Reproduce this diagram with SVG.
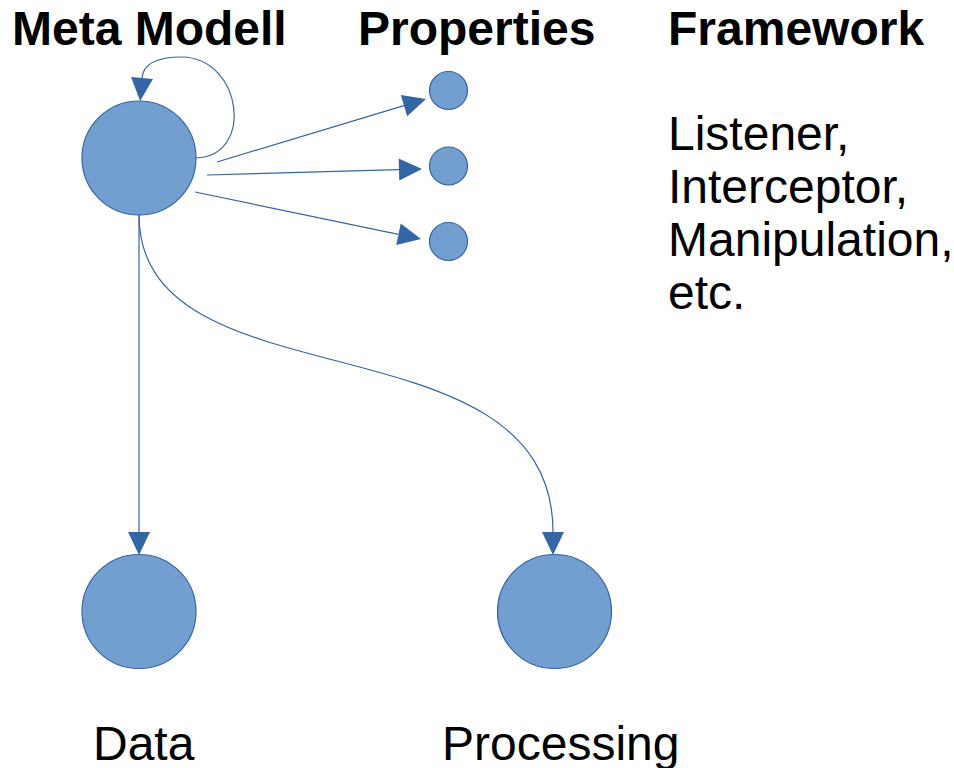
<svg xmlns="http://www.w3.org/2000/svg" width="954" height="768" viewBox="0 0 954 768">
  <defs>
    <marker id="arrow" markerUnits="userSpaceOnUse" markerWidth="24" markerHeight="22" refX="0" refY="11" orient="auto" overflow="visible">
      <path d="M0,0 L23,11 L0,22 z" fill="#3465a4"/>
    </marker>
  </defs>
  <style>
    .node { fill: #729fcf; stroke: #3465a4; stroke-width: 1.2; }
    .edge { fill: none; stroke: #3465a4; stroke-width: 1.2; marker-end: url(#arrow); }
    .title { font-family: "Liberation Sans", Arial, sans-serif; font-weight: bold; font-size: 48px; fill: #000; }
    .label { font-family: "Liberation Sans", Arial, sans-serif; font-size: 48px; fill: #000; }
  </style>
  <rect width="954" height="768" fill="#ffffff"/>

  <!-- column headings -->
  <text class="title" x="12" y="45">Meta Modell</text>
  <text class="title" x="358" y="45">Properties</text>
  <text class="title" x="668" y="45">Framework</text>

  <!-- connectors -->
  <g id="connectors">
    <path class="edge" d="M196,158 C255,156 242,58 182,57 C154,57 143,66 142,78"/>
    <path class="edge" d="M217,162 L404,105.6"/>
    <path class="edge" d="M207,175 L399,169.6"/>
    <path class="edge" d="M195,192 L398.5,234.3"/>
    <path class="edge" d="M139,215 L139,532"/>
    <path class="edge" d="M139,215 C139,410 553,310 553,532"/>
  </g>

  <!-- nodes -->
  <g id="meta-modell">
    <circle class="node" cx="139" cy="158" r="57"/>
  </g>
  <g id="property-1">
    <circle class="node" cx="448.5" cy="90.5" r="19"/>
  </g>
  <g id="property-2">
    <circle class="node" cx="448.5" cy="166" r="19"/>
  </g>
  <g id="property-3">
    <circle class="node" cx="448.5" cy="241.5" r="19"/>
  </g>
  <g id="data">
    <circle class="node" cx="139" cy="611.5" r="57"/>
    <text class="label" x="93" y="760">Data</text>
  </g>
  <g id="processing">
    <circle class="node" cx="554.5" cy="611.5" r="57"/>
    <text class="label" x="442" y="760">Processing</text>
  </g>

  <!-- framework features -->
  <g id="framework">
    <text class="label" x="668" y="150">Listener,</text>
    <text class="label" x="668" y="203">Interceptor,</text>
    <text class="label" x="668" y="256">Manipulation,</text>
    <text class="label" x="668" y="309">etc.</text>
  </g>
</svg>
